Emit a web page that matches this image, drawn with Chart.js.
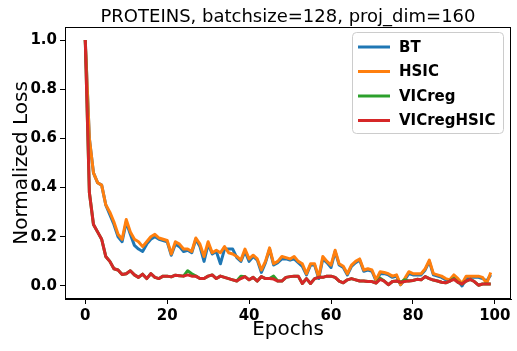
<!DOCTYPE html>
<html>
<head>
<meta charset="utf-8">
<script src="https://cdn.jsdelivr.net/npm/chart.js"></script>
<style>
  html, body { margin: 0; padding: 0; background: #fff; }
  #wrap { width: 517px; height: 351px; }
</style>
</head>
<body>
<div id="wrap"><canvas id="lossChart" width="517" height="351"></canvas></div>
<script>
// ===== data =====
const epochs = Array.from({ length: 100 }, (_, i) => i);

const hsicLoss = [
  1.0, 0.60, 0.46, 0.42, 0.41, 0.33, 0.30, 0.26, 0.21, 0.19,
  0.27, 0.22, 0.19, 0.18, 0.16, 0.18, 0.20, 0.21, 0.195, 0.19,
  0.185, 0.13, 0.18, 0.17, 0.15, 0.15, 0.14, 0.195, 0.17, 0.12,
  0.18, 0.135, 0.145, 0.135, 0.16, 0.135, 0.13, 0.12, 0.105, 0.15,
  0.11, 0.125, 0.11, 0.065, 0.10, 0.155, 0.09, 0.10, 0.12, 0.115,
  0.11, 0.12, 0.10, 0.09, 0.05, 0.09, 0.09, 0.035, 0.12, 0.10,
  0.085, 0.145, 0.09, 0.08, 0.05, 0.085, 0.10, 0.11, 0.065, 0.07,
  0.065, 0.025, 0.058, 0.055, 0.05, 0.04, 0.045, 0.005, 0.03, 0.058,
  0.05, 0.05, 0.05, 0.07, 0.105, 0.05, 0.045, 0.04, 0.03, 0.025,
  0.045, 0.03, 0.01, 0.04, 0.04, 0.04, 0.04, 0.035, 0.01, 0.055
];

const btLoss = [
  1.0, 0.60, 0.46, 0.42, 0.41, 0.33, 0.29, 0.25, 0.20, 0.18,
  0.26, 0.21, 0.165, 0.15, 0.14, 0.17, 0.19, 0.20, 0.19, 0.185,
  0.18, 0.125, 0.17, 0.16, 0.14, 0.145, 0.135, 0.19, 0.16, 0.10,
  0.17, 0.13, 0.14, 0.09, 0.15, 0.15, 0.15, 0.115, 0.10, 0.14,
  0.10, 0.12, 0.105, 0.055, 0.095, 0.15, 0.085, 0.095, 0.11, 0.11,
  0.105, 0.11, 0.095, 0.08, 0.045, 0.085, 0.085, 0.03, 0.11, 0.095,
  0.075, 0.14, 0.085, 0.075, 0.045, 0.08, 0.095, 0.105, 0.06, 0.065,
  0.06, 0.02, 0.05, 0.05, 0.045, 0.035, 0.04, 0.005, 0.025, 0.05,
  0.045, 0.045, 0.045, 0.065, 0.10, 0.045, 0.04, 0.035, 0.025, 0.02,
  0.04, 0.02, 0.0, 0.03, 0.035, 0.035, 0.035, 0.03, 0.02, 0.045
];

const vicregHsicLoss = [
  1.0, 0.38, 0.25, 0.22, 0.19, 0.12, 0.10, 0.07, 0.065, 0.047,
  0.05, 0.062, 0.045, 0.035, 0.048, 0.03, 0.05, 0.035, 0.03, 0.04,
  0.04, 0.037, 0.044, 0.042, 0.04, 0.045, 0.04, 0.04, 0.03, 0.03,
  0.04, 0.045, 0.03, 0.04, 0.035, 0.03, 0.025, 0.02, 0.03, 0.038,
  0.025, 0.035, 0.02, 0.038, 0.03, 0.03, 0.028, 0.02, 0.02, 0.035,
  0.038, 0.04, 0.04, 0.01, 0.03, 0.01, 0.03, 0.035, 0.035, 0.04,
  0.04, 0.035, 0.02, 0.013, 0.025, 0.03, 0.025, 0.02, 0.02, 0.018,
  0.018, 0.012, 0.027, 0.02, 0.005, 0.018, 0.02, 0.015, 0.018, 0.02,
  0.022, 0.027, 0.025, 0.038, 0.03, 0.024, 0.02, 0.015, 0.013, 0.02,
  0.027, 0.015, 0.008, 0.02, 0.027, 0.018, 0.003, 0.008, 0.008, 0.008
];

const vicregLoss = [
  1.0, 0.38, 0.25, 0.22, 0.19, 0.12, 0.10, 0.07, 0.065, 0.047,
  0.05, 0.062, 0.045, 0.035, 0.048, 0.03, 0.05, 0.035, 0.03, 0.04,
  0.04, 0.037, 0.044, 0.042, 0.04, 0.062, 0.05, 0.04, 0.03, 0.03,
  0.04, 0.045, 0.03, 0.04, 0.035, 0.03, 0.025, 0.02, 0.04, 0.038,
  0.025, 0.035, 0.02, 0.038, 0.03, 0.03, 0.04, 0.02, 0.02, 0.035,
  0.038, 0.04, 0.04, 0.01, 0.03, 0.01, 0.03, 0.035, 0.035, 0.04,
  0.04, 0.035, 0.02, 0.013, 0.025, 0.03, 0.025, 0.02, 0.02, 0.018,
  0.018, 0.012, 0.032, 0.02, 0.005, 0.018, 0.02, 0.015, 0.025, 0.02,
  0.022, 0.027, 0.025, 0.038, 0.03, 0.024, 0.02, 0.015, 0.013, 0.02,
  0.03, 0.015, 0.008, 0.02, 0.027, 0.018, 0.003, 0.008, 0.008, 0.008
];

const seriesNames = ["BT", "HSIC", "VICreg", "VICregHSIC"];
const seriesColors = ["#1f77b4", "#ff7f0e", "#2ca02c", "#d62728"];
const seriesValues = [btLoss, hsicLoss, vicregLoss, vicregHsicLoss];

const xTicks = [0, 20, 40, 60, 80, 100];
const yTicks = [0.0, 0.2, 0.4, 0.6, 0.8, 1.0];

const FONT = "'DejaVu Sans', sans-serif";

// box around the plot + matplotlib-like legend inside the axes
const framePlugin = {
  id: "frame",
  afterDatasetsDraw(chart) {
    const { ctx, chartArea: a } = chart;
    ctx.save();
    ctx.strokeStyle = "#000";
    ctx.lineWidth = 1;
    ctx.strokeRect(a.left + 0.5, a.top + 0.5, a.right - a.left - 1, a.bottom - a.top - 1);

    // legend box
    const bx = a.right - 159, by = a.top + 5, bw = 151, bh = 101;
    ctx.fillStyle = "rgba(255,255,255,0.8)";
    ctx.strokeStyle = "#cccccc";
    ctx.beginPath();
    ctx.roundRect(bx + 0.5, by + 0.5, bw, bh, 4);
    ctx.fill();
    ctx.stroke();

    ctx.font = "bold 15px " + FONT;
    ctx.textBaseline = "middle";
    ctx.textAlign = "left";
    seriesNames.forEach((name, i) => {
      const y = by + 15 + i * 24.5;
      ctx.strokeStyle = seriesColors[i];
      ctx.lineWidth = 3;
      ctx.beginPath();
      ctx.moveTo(bx + 6, y);
      ctx.lineTo(bx + 38, y);
      ctx.stroke();
      ctx.fillStyle = "#000";
      ctx.fillText(name, bx + 47, y + 1);
    });
    ctx.restore();
  }
};

const ctx = document.getElementById("lossChart").getContext("2d");
new Chart(ctx, {
  type: "line",
  data: {
    datasets: seriesNames.map((name, i) => ({
      label: name,
      data: epochs.map((e, j) => ({ x: e, y: seriesValues[i][j] })),
      borderColor: seriesColors[i],
      backgroundColor: seriesColors[i],
      borderWidth: 3,
      borderJoinStyle: "round",
      pointRadius: 0,
      tension: 0,
      fill: false,
      order: seriesNames.length - i
    }))
  },
  options: {
    responsive: false,
    animation: false,
    devicePixelRatio: 1,
    layout: { padding: { left: 0, right: 6, top: 0, bottom: 0 } },
    plugins: {
      legend: { display: false },
      tooltip: { enabled: false },
      title: {
        display: true,
        fullSize: false,
        text: "PROTEINS, batchsize=128, proj_dim=160",
        color: "#000",
        font: { family: FONT, size: 18, weight: "normal", lineHeight: 1.0 },
        padding: { top: 8, bottom: 1 }
      }
    },
    scales: {
      x: {
        type: "linear",
        min: -4.95,
        max: 103.95,
        afterBuildTicks: s => { s.ticks = xTicks.map(v => ({ value: v })); },
        afterFit: s => { s.height = 52; },
        ticks: {
          color: "#000",
          padding: 3,
          maxRotation: 0,
          font: { family: FONT, size: 15, weight: "bold" },
          callback: v => String(v)
        },
        grid: { drawOnChartArea: false, drawTicks: true, tickLength: 5, tickColor: "#000" },
        border: { display: true, color: "#000" },
        title: {
          display: true,
          text: "Epochs",
          color: "#000",
          font: { family: FONT, size: 20, weight: "normal", lineHeight: 1.2 },
          padding: { top: 0, bottom: 9 }
        }
      },
      y: {
        type: "linear",
        min: -0.053,
        max: 1.053,
        afterBuildTicks: s => { s.ticks = yTicks.map(v => ({ value: v })); },
        afterFit: s => { s.width = 65; },
        ticks: {
          color: "#000",
          padding: 3,
          font: { family: FONT, size: 15, weight: "bold" },
          callback: v => Number(v).toFixed(1)
        },
        grid: { drawOnChartArea: false, drawTicks: true, tickLength: 5, tickColor: "#000" },
        border: { display: true, color: "#000" },
        title: {
          display: true,
          text: "Normalized Loss",
          color: "#000",
          font: { family: FONT, size: 20, weight: "normal", lineHeight: 1.2 },
          padding: { top: 10, bottom: 0 }
        }
      }
    }
  },
  plugins: [framePlugin]
});
</script>
</body>
</html>
